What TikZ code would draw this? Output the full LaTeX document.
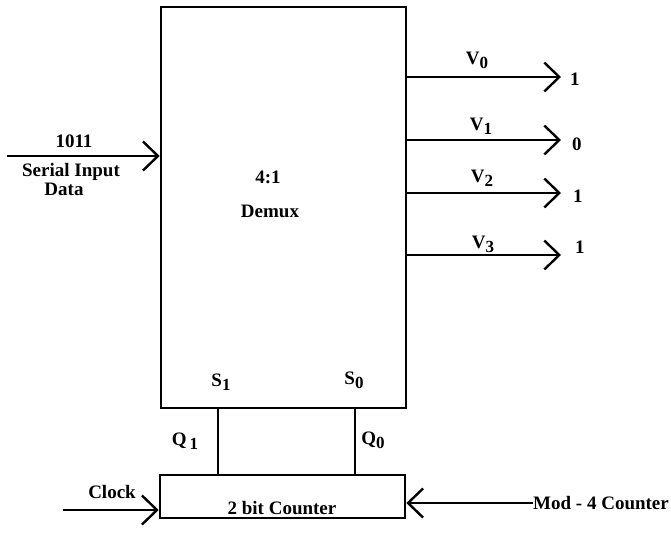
\documentclass[tikz,border=0pt]{standalone}
\usepackage{fontspec}
\setmainfont{Liberation Serif}
\usetikzlibrary{arrows.meta}
\newcommand\sbs[1]{\raisebox{-0.45ex}{\fontsize{17}{17}\selectfont #1}}
\begin{document}
\begin{tikzpicture}[x=1pt,y=-1pt,
  box/.style={draw,line width=2.6pt,rectangle,inner sep=0pt},
  arr/.style={line width=2.4pt,-{Straight Barb[length=15pt,width=29pt,line width=2.4pt]}},
  wire/.style={line width=2pt},
  lbl/.style={font=\fontsize{19}{21}\selectfont\bfseries,inner sep=0pt}]
\useasboundingbox (0,0) rectangle (671,546);
\node[box,minimum width=245pt,minimum height=401pt] (demux) at (283.5,207.5) {};
\node[box,minimum width=245pt,minimum height=43pt] (counter) at (282.5,496.5) {};
\node[lbl] (t41) at (268,177) {4:1};
\node[lbl] (tdm) at (270,211) {Demux};
\node[lbl] (tcnt) at (282,508) {2 bit Counter};
% input
\coordinate (in) at (7,156);
\draw[arr] (in) -- (in -| demux.west);
\node[lbl] (b1011) at (74,141) {1011};
\node[lbl] (sid1) at (71,172) {Serial Input};
\node[lbl] (sid2) at (64,189) {Data};
% outputs
\foreach \i/\y/\v/\vx/\vy/\tx/\ty in {0/77/1/477/60/570/79, 1/140/0/481/126/572/144, 2/193/1/482/178/573/196, 3/255/1/483/244/575/247}{
  \coordinate (o\i) at (561,\y);
  \draw[arr] (o\i -| demux.east) -- (o\i);
  \node[lbl] (v\i) at (\vx,\vy) {V\sbs{\i}};
  \node[lbl,anchor=west] (val\i) at (\tx,\ty) {\v};
}
% selects
\node[lbl] (s1) at (221,382) {S\sbs{1}};
\node[lbl] (s0) at (354,380) {S\sbs{0}};
\coordinate (q1) at (218,0);
\coordinate (q0) at (355,0);
\draw[wire] (q1 |- demux.south) -- (q1 |- counter.north);
\draw[wire] (q0 |- demux.south) -- (q0 |- counter.north);
\node[lbl] (lq1) at (185,441) {Q\,\sbs{1}};
\node[lbl] (lq0) at (373,440) {Q\sbs{0}};
% clock
\coordinate (clk) at (63,510);
\draw[arr] (clk) -- (clk -| counter.west);
\node[lbl] (tclk) at (112,492) {Clock};
% mod
\coordinate (mod) at (533,503);
\draw[arr] (mod) -- (mod -| counter.east);
\node[lbl,anchor=west] (tmod) at (533,503) {Mod - 4 Counter};
\end{tikzpicture}
\end{document}
